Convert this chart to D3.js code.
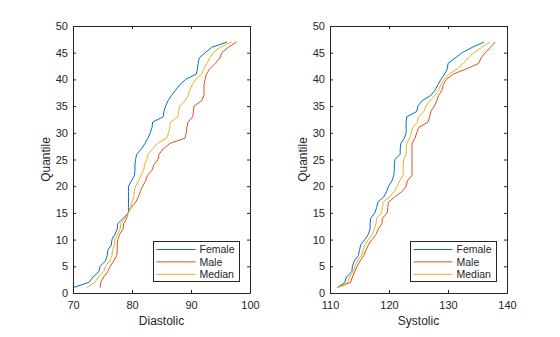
<!DOCTYPE html>
<html>
<head>
<meta charset="utf-8">
<script src="https://d3js.org/d3.v7.min.js"></script>
<style>
  body { margin: 0; background: #fff; }
  svg { display: block; font-family: "Liberation Sans", Arial, Helvetica, sans-serif; }
  .axis text { font-size: 11px; fill: #262626; }
  .axis path, .axis line { stroke: #262626; }
</style>
</head>
<body>
<svg id="chart" width="560" height="337"></svg>
<script>
// quantile index 1..47
const quantiles = d3.range(1, 48);

// Diastolic readings per quantile
const diastolicFemale = [70.0, 72.7, 73.4, 74.4, 74.6, 75.5, 75.8, 75.9, 76.5, 76.6,
  77.1, 77.5, 77.6, 78.5, 79.4, 79.4, 79.4, 79.4, 79.4, 79.4,
  79.9, 80.4, 80.5, 80.5, 80.6, 80.8, 81.6, 82.2, 82.7, 83.1,
  83.4, 83.5, 85.3, 85.4, 85.7, 86.1, 86.7, 87.4, 88.1, 89.1,
  90.9, 91.1, 91.2, 91.4, 92.4, 93.5, 96.1];
const diastolicMale = [74.6, 74.7, 75.2, 75.9, 76.3, 76.9, 77.4, 77.5, 77.5, 77.6,
  77.9, 78.5, 78.6, 79.1, 79.3, 79.9, 80.6, 81.1, 81.4, 81.8,
  82.3, 82.6, 83.4, 83.7, 84.4, 84.6, 85.3, 86.4, 89.0, 89.2,
  89.3, 89.5, 90.3, 90.4, 90.5, 91.8, 92.2, 92.2, 92.2, 92.4,
  92.6, 93.2, 94.1, 94.9, 95.2, 96.3, 97.7];
const diastolicMedian = [72.3, 73.7, 74.3, 75.2, 75.5, 76.2, 76.6, 76.7, 77.0, 77.1,
  77.5, 78.0, 78.1, 78.8, 79.4, 79.7, 80.0, 80.3, 80.4, 80.6,
  81.1, 81.5, 82.0, 82.1, 82.5, 82.7, 83.5, 84.3, 85.9, 86.2,
  86.4, 86.5, 87.8, 87.9, 88.1, 89.0, 89.5, 89.8, 90.2, 90.8,
  91.8, 92.2, 92.7, 93.2, 93.8, 94.9, 96.9];

// Systolic readings per quantile
const systolicFemale = [111.2, 112.5, 112.8, 113.7, 113.8, 114.1, 114.8, 115.0, 115.2, 115.9,
  116.5, 116.8, 116.8, 116.9, 117.6, 117.9, 118.1, 119.1, 119.6, 119.9,
  120.5, 120.8, 120.9, 120.9, 121.0, 121.9, 121.9, 122.0, 122.6, 122.9,
  122.9, 122.9, 123.0, 124.7, 124.9, 125.6, 127.1, 127.8, 128.3, 128.8,
  129.4, 129.9, 130.0, 131.2, 132.4, 134.1, 136.1];
const systolicMale = [111.2, 113.5, 113.8, 114.2, 114.6, 115.1, 115.7, 116.1, 116.5, 117.1,
  117.8, 118.2, 118.8, 118.9, 119.7, 119.8, 119.9, 121.0, 122.2, 122.9,
  123.1, 123.9, 123.9, 123.9, 123.9, 123.9, 123.9, 123.9, 124.4, 124.7,
  125.0, 126.6, 126.9, 127.1, 127.7, 128.1, 128.4, 129.0, 129.2, 129.7,
  130.9, 133.2, 135.2, 135.6, 136.3, 137.2, 138.0];
const systolicMedian = [111.2, 113.0, 113.3, 114.0, 114.2, 114.6, 115.3, 115.6, 115.9, 116.5,
  117.2, 117.5, 117.8, 117.9, 118.7, 118.9, 119.0, 120.1, 120.9, 121.4,
  121.8, 122.4, 122.4, 122.4, 122.5, 122.9, 122.9, 123.0, 123.5, 123.8,
  124.0, 124.8, 125.0, 125.9, 126.3, 126.9, 127.8, 128.4, 128.8, 129.3,
  130.2, 131.6, 132.6, 133.4, 134.4, 135.7, 137.1];

const seriesNames = ["Female", "Male", "Median"];
const colors = ["#0072BD", "#D95319", "#EDB120"];
const yTicks = [0, 5, 10, 15, 20, 25, 30, 35, 40, 45, 50];
const diastolicTicks = [70, 80, 90, 100];
const systolicTicks = [110, 120, 130, 140];

const svg = d3.select("#chart");
const plotTop = 26, plotBottom = 293;

const drawPanel = (left, right, xDomain, xTicks, xLabel, series) => {
  const x = d3.scaleLinear().domain(xDomain).range([left, right]);
  const y = d3.scaleLinear().domain([0, 50]).range([plotBottom, plotTop]);
  const g = svg.append("g");

  // lines
  const line = d3.line().x(d => x(d[0])).y(d => y(d[1]));
  series.forEach((vals, i) => {
    g.append("path")
      .datum(vals.map((v, j) => [v, quantiles[j]]))
      .attr("fill", "none")
      .attr("stroke", colors[i])
      .attr("stroke-width", 1)
      .attr("d", line);
  });

  // axes, ticks pointing inward on all four sides
  g.append("g").attr("class", "axis")
    .attr("transform", `translate(0,${plotBottom})`)
    .call(d3.axisBottom(x).tickValues(xTicks).tickSizeInner(-3).tickSizeOuter(0).tickPadding(8));
  g.append("g").attr("class", "axis")
    .attr("transform", `translate(0,${plotTop})`)
    .call(d3.axisTop(x).tickValues(xTicks).tickSizeInner(-3).tickSizeOuter(0).tickFormat(""));
  g.append("g").attr("class", "axis")
    .attr("transform", `translate(${left},0)`)
    .call(d3.axisLeft(y).tickValues(yTicks).tickSizeInner(-3).tickSizeOuter(0).tickPadding(5));
  g.append("g").attr("class", "axis")
    .attr("transform", `translate(${right},0)`)
    .call(d3.axisRight(y).tickValues(yTicks).tickSizeInner(-3).tickSizeOuter(0).tickFormat(""));

  // axis titles
  g.append("text")
    .attr("x", (left + right) / 2)
    .attr("y", 325)
    .attr("text-anchor", "middle")
    .attr("font-size", 12)
    .attr("fill", "#262626")
    .text(xLabel);
  g.append("text")
    .attr("transform", `translate(${left - 23},${(plotTop + plotBottom) / 2}) rotate(-90)`)
    .attr("text-anchor", "middle")
    .attr("font-size", 12)
    .attr("fill", "#262626")
    .text("Quantile");

  // legend box in lower right
  const lx = right - 97, ly = 241;
  const legend = g.append("g").attr("transform", `translate(${lx},${ly})`);
  legend.append("rect")
    .attr("x", 0.5).attr("y", 0.5)
    .attr("width", 86).attr("height", 40)
    .attr("fill", "#fff")
    .attr("stroke", "#262626")
    .attr("stroke-width", 1);
  seriesNames.forEach((name, i) => {
    const ry = 8.5 + i * 12.4;
    legend.append("line")
      .attr("x1", 3.5).attr("x2", 42.5)
      .attr("y1", ry).attr("y2", ry)
      .attr("stroke", colors[i]);
    legend.append("text")
      .attr("x", 46.5).attr("y", ry + 3.8)
      .attr("font-size", 10.5)
      .attr("fill", "#262626")
      .text(name);
  });
};

drawPanel(73, 250, [70, 100], diastolicTicks, "Diastolic",
  [diastolicFemale, diastolicMale, diastolicMedian]);
drawPanel(330, 507, [110, 140], systolicTicks, "Systolic",
  [systolicFemale, systolicMale, systolicMedian]);
</script>
</body>
</html>
